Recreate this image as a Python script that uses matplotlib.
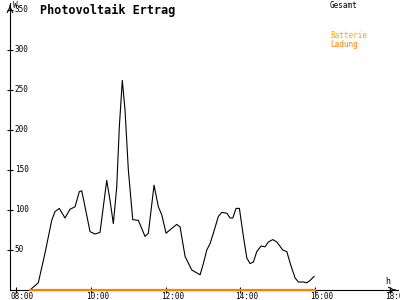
import matplotlib
matplotlib.use('Agg')
import matplotlib.pyplot as plt
from matplotlib.transforms import ScaledTranslation

# Gesamt (W), time in decimal hours
hours = [8.374, 8.596, 8.775, 8.955, 9.043, 9.158, 9.310, 9.444, 9.578, 9.693,
         9.757, 9.845, 9.979, 10.112, 10.246, 10.334, 10.425, 10.513, 10.602, 10.693,
         10.762, 10.842, 10.914, 11.003, 11.120, 11.270, 11.449, 11.537, 11.690, 11.805,
         11.896, 12.011, 12.163, 12.297, 12.385, 12.519, 12.698, 12.920, 13.008, 13.099,
         13.187, 13.275, 13.409, 13.500, 13.634, 13.722, 13.794, 13.882, 13.971, 14.078,
         14.169, 14.257, 14.345, 14.436, 14.551, 14.658, 14.746, 14.864, 14.971, 15.131,
         15.238, 15.345, 15.460, 15.548, 15.682, 15.773, 15.861, 15.968]
gesamt = [0, 9, 46, 87, 98, 102, 90, 101, 104, 123,
          124, 104, 73, 70, 72, 104, 137, 112, 83, 129,
          204, 262, 225, 150, 88, 87, 67, 71, 131, 104,
          94, 71, 77, 82, 79, 42, 25, 19, 33, 50,
          58, 71, 92, 97, 96, 90, 90, 102, 102, 67,
          40, 33, 35, 48, 55, 54, 60, 63, 60, 50,
          48, 31, 15, 10, 10, 9, 12, 17]

# Batterie Ladung
ladung_hours = [8.374, 16.0]
ladung = [0, 0]

x_ticks = [8, 10, 12, 14, 16, 18]
x_labels = ['08:00', '10:00', '12:00', '14:00', '16:00', '18:00']
y_ticks = [50, 100, 150, 200, 250, 300, 350]

mono = 'DejaVu Sans Mono'


def main():
    fig = plt.figure(figsize=(4, 3), dpi=100)
    ax = fig.add_axes([10 / 400, 10 / 300, 388 / 400, 287 / 300])
    ax.set_xlim(7.84, 18.21)
    ax.set_ylim(0, 358.75)

    ax.plot(hours, gesamt, color='black', lw=0.8)
    ax.plot(ladung_hours, ladung, color='#ff8000', lw=1.6, clip_on=False, zorder=5)

    for s in ['top', 'right']:
        ax.spines[s].set_visible(False)
    ax.spines['left'].set_linewidth(0.8)
    ax.spines['bottom'].set_linewidth(0.8)

    ax.set_xticks(x_ticks)
    ax.set_xticklabels(x_labels, fontsize=5.5, family=mono)
    ax.set_yticks(y_ticks)
    ax.set_yticklabels([str(v) for v in y_ticks], fontsize=5.5, family=mono)
    ax.tick_params(axis='both', direction='inout', length=5, width=0.8)
    ax.tick_params(axis='x', pad=-1)
    ax.tick_params(axis='y', pad=-6)
    shift = ScaledTranslation(-5 / 100, 0, fig.dpi_scale_trans)
    for lbl in ax.get_xticklabels():
        lbl.set_horizontalalignment('left')
        lbl.set_transform(lbl.get_transform() + shift)
    for lbl in ax.get_yticklabels():
        lbl.set_horizontalalignment('left')
        lbl.set_verticalalignment('center')

    # axis arrows
    ax.annotate('', xy=(1.0, 0), xycoords='axes fraction', xytext=(0.985, 0),
                arrowprops=dict(arrowstyle='->', lw=0.8, color='black'), annotation_clip=False)
    ax.annotate('', xy=(0, 1.0), xycoords='axes fraction', xytext=(0, 0.98),
                arrowprops=dict(arrowstyle='->', lw=0.8, color='black'), annotation_clip=False)

    fig.text(13 / 400, 1 - 6 / 300, 'W', fontsize=5.5, family=mono, va='center')
    fig.text(385 / 400, 1 - 281 / 300, 'h', fontsize=6, family=mono, va='center')
    fig.text(40 / 400, 1 - 10 / 300, 'Photovoltaik Ertrag', fontsize=8.5, family=mono,
             fontweight='bold', va='center')
    fig.text(330 / 400, 1 - 5 / 300, 'Gesamt', fontsize=5.5, family=mono, va='center')
    fig.text(330 / 400, 1 - 36 / 300, 'Batterie', fontsize=5.5, family=mono, va='center',
             color='#ffa500')
    fig.text(330 / 400, 1 - 44 / 300, 'Ladung', fontsize=5.5, family=mono, va='center',
             color='#ff8000')

    fig.savefig('out.png', dpi=100)


if __name__ == '__main__':
    main()
